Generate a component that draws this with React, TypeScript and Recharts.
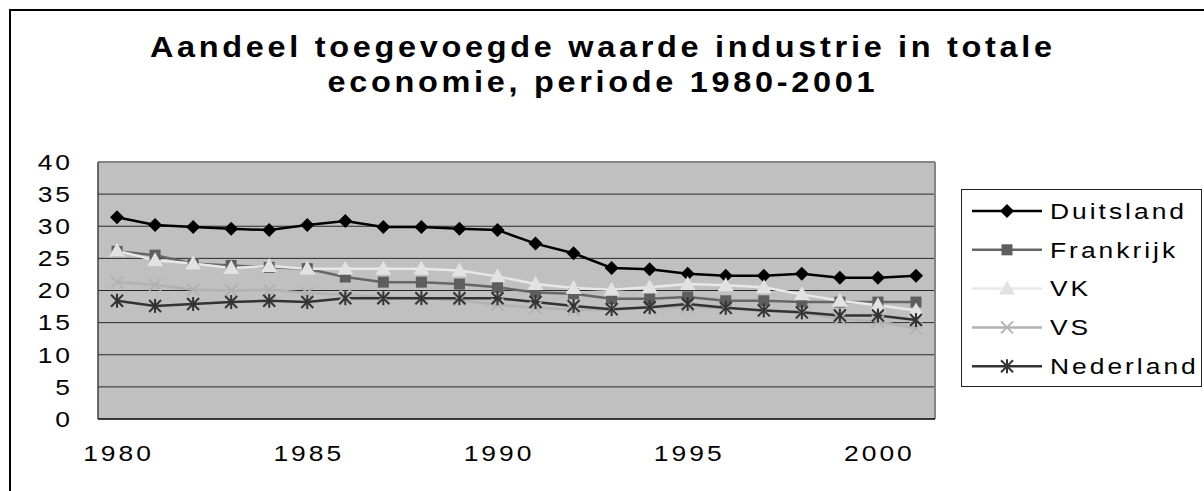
import React from 'react';
import {
    CartesianGrid,
    Line,
    LineChart,
    ReferenceLine,
    XAxis,
    YAxis,
} from 'recharts';

const years = [
    1980, 1981, 1982, 1983, 1984, 1985, 1986, 1987, 1988, 1989, 1990,
    1991, 1992, 1993, 1994, 1995, 1996, 1997, 1998, 1999, 2000, 2001,
];
const duitsland = [
    31.4, 30.2, 29.9, 29.6, 29.4, 30.2, 30.8, 29.9, 29.9, 29.6, 29.4,
    27.3, 25.8, 23.5, 23.3, 22.6, 22.3, 22.3, 22.6, 22.0, 22.0, 22.3,
];
const frankrijk = [
    26.1, 25.5, 24.2, 23.9, 23.6, 23.4, 22.1, 21.3, 21.3, 21.0, 20.5,
    19.7, 19.5, 18.7, 18.7, 19.0, 18.4, 18.4, 18.2, 18.2, 18.2, 18.2,
];
const vk = [
    26.2, 24.7, 24.2, 23.5, 23.8, 23.4, 23.4, 23.4, 23.4, 23.1, 22.2,
    21.0, 20.4, 20.1, 20.5, 21.0, 20.8, 20.5, 19.4, 18.4, 17.7, 16.9,
];
const vs = [
    21.3, 20.9, 20.1, 20.0, 20.1, 19.6, 19.3, 19.0, 18.8, 18.5, 17.8,
    17.3, 17.0, 17.0, 17.3, 17.5, 17.2, 16.9, 16.5, 15.6, 15.2, 14.1,
];
const nederland = [
    18.4, 17.6, 17.9, 18.2, 18.4, 18.2, 18.8, 18.8, 18.8, 18.8, 18.8,
    18.2, 17.6, 17.1, 17.4, 17.9, 17.3, 16.9, 16.6, 16.1, 16.1, 15.4,
];
const yTicks = [0, 5, 10, 15, 20, 25, 30, 35, 40];
const yearLabels = [1980, 1985, 1990, 1995, 2000];
const titleLines = [
    'Aandeel toegevoegde waarde industrie in totale',
    'economie, periode 1980-2001',
];

// tick marks sit between the categories, like in Excel
const betweenTicks = [...years.map((y) => y - 0.5), years[years.length - 1] + 0.5];

const data = years.map((year, i) => ({
    year,
    Duitsland: duitsland[i],
    Frankrijk: frankrijk[i],
    VK: vk[i],
    VS: vs[i],
    Nederland: nederland[i],
}));

type Shape = 'diamond' | 'square' | 'triangle' | 'cross' | 'star';

interface Series {
    key: string;
    color: string;
    marker: string;
    shape: Shape;
}

const series: Series[] = [
    { key: 'Duitsland', color: '#000000', marker: '#000000', shape: 'diamond' },
    { key: 'Frankrijk', color: '#666666', marker: '#5e5e5e', shape: 'square' },
    { key: 'VK', color: '#e8e8e8', marker: '#e2e2e2', shape: 'triangle' },
    { key: 'VS', color: '#b2b2b2', marker: '#b2b2b2', shape: 'cross' },
    { key: 'Nederland', color: '#333333', marker: '#333333', shape: 'star' },
];

const FONT = '"Liberation Sans", Arial, sans-serif';

// old Excel export: glyphs look stretched and spaced out
function WideText({
    x,
    y,
    anchor = 'start',
    size = 22,
    spacing = 2.5,
    sx = 1.2,
    bold = false,
    dy,
    children,
}: any) {
    const lx = anchor === 'end' ? spacing : anchor === 'middle' ? spacing / 2 : 0;
    return (
        <text
            transform={`translate(${x},${y}) scale(${sx},1)`}
            x={lx}
            y={0}
            dy={dy}
            textAnchor={anchor}
            fill="#000"
            fontSize={size}
            fontFamily={FONT}
            fontWeight={bold ? 'bold' : 'normal'}
            letterSpacing={spacing}
        >
            {children}
        </text>
    );
}

function Marker({ cx, cy, shape, color }: { cx: number; cy: number; shape: Shape; color: string }) {
    if (cx == null || cy == null) return null;
    switch (shape) {
        case 'diamond':
            return (
                <polygon
                    points={`${cx},${cy - 7} ${cx + 7},${cy} ${cx},${cy + 7} ${cx - 7},${cy}`}
                    fill={color}
                />
            );
        case 'square':
            return <rect x={cx - 5.5} y={cy - 5.5} width={11} height={11} fill={color} />;
        case 'triangle':
            return (
                <polygon
                    points={`${cx},${cy - 8} ${cx + 8},${cy + 6} ${cx - 8},${cy + 6}`}
                    fill={color}
                />
            );
        case 'cross':
            return (
                <g stroke={color} strokeWidth={2}>
                    <line x1={cx - 6} y1={cy - 6} x2={cx + 6} y2={cy + 6} />
                    <line x1={cx - 6} y1={cy + 6} x2={cx + 6} y2={cy - 6} />
                </g>
            );
        case 'star':
            return (
                <g stroke={color} strokeWidth={2}>
                    <line x1={cx - 6} y1={cy - 6} x2={cx + 6} y2={cy + 6} />
                    <line x1={cx - 6} y1={cy + 6} x2={cx + 6} y2={cy - 6} />
                    <line x1={cx} y1={cy - 7} x2={cx} y2={cy + 7} />
                </g>
            );
    }
    return null;
}

const YTick = ({ x, y, payload }: any) => (
    <WideText x={x} y={y} dy="0.355em" anchor="end">
        {payload.value}
    </WideText>
);

const XTick = ({ x, y, payload }: any) => (
    <WideText x={x} y={y} dy="0.71em" anchor="middle">
        {payload.value}
    </WideText>
);

function Title() {
    return (
        <svg width={1204} height={110} style={{ position: 'absolute', left: 0, top: 0 }}>
            {titleLines.map((t, i) => (
                <WideText
                    key={t}
                    x={601}
                    y={57 + i * 35}
                    anchor="middle"
                    size={29}
                    spacing={3.3}
                    sx={1.12}
                    bold
                >
                    {t}
                </WideText>
            ))}
        </svg>
    );
}

function ChartLegend() {
    return (
        <svg
            width={241}
            height={198}
            style={{ position: 'absolute', left: 961, top: 189 }}
        >
            <rect x={0.5} y={0.5} width={240} height={197} fill="#fff" stroke="#222" />
            {series.map((s, i) => {
                const cy = 22 + i * 38.8;
                return (
                    <g key={s.key}>
                        <line x1={11} x2={81} y1={cy} y2={cy} stroke={s.color} strokeWidth={2.5} />
                        <Marker cx={46} cy={cy} shape={s.shape} color={s.marker} />
                        <WideText x={89} y={cy} dy="0.355em">
                            {s.key}
                        </WideText>
                    </g>
                );
            })}
        </svg>
    );
}

export default function App() {
    return (
        <div
            style={{
                position: 'absolute',
                left: 0,
                top: 0,
                width: 1204,
                height: 491,
                overflow: 'hidden',
                background: '#fff',
                fontFamily: FONT,
            }}
        >
            <div
                style={{
                    position: 'absolute',
                    left: 9,
                    top: 9,
                    width: 1400,
                    height: 700,
                    border: '2px solid #000',
                }}
            />
            <Title />
            <div style={{ position: 'absolute', left: 0, top: 0 }}>
                <LineChart
                    width={1204}
                    height={491}
                    data={data}
                    margin={{ top: 162, right: 269, bottom: 0, left: 0 }}
                >
                    <CartesianGrid
                        vertical={false}
                        horizontalValues={[5, 10, 15, 20, 25, 30, 35]}
                        stroke="#2a2a2a"
                        strokeWidth={1}
                        fill="#c0c0c0"
                        fillOpacity={1}
                    />
                    <XAxis
                        dataKey="year"
                        type="number"
                        domain={[1979.5, 2001.5]}
                        allowDataOverflow
                        ticks={betweenTicks}
                        interval={0}
                        tick={false}
                        tickSize={7}
                        height={8}
                        axisLine={{ stroke: '#000', strokeWidth: 1.5 }}
                        tickLine={{ stroke: '#000', strokeWidth: 1 }}
                    />
                    <XAxis
                        xAxisId="lbl"
                        dataKey="year"
                        type="number"
                        domain={[1979.5, 2001.5]}
                        allowDataOverflow
                        ticks={yearLabels}
                        interval={0}
                        tick={<XTick />}
                        tickSize={0}
                        tickMargin={18}
                        height={64}
                        axisLine={false}
                        tickLine={false}
                    />
                    <YAxis
                        domain={[0, 40]}
                        ticks={yTicks}
                        interval={0}
                        width={98}
                        tick={<YTick />}
                        tickSize={0}
                        tickMargin={28}
                        tickLine={false}
                        axisLine={{ stroke: '#404040', strokeWidth: 1.5 }}
                    />
                    <ReferenceLine y={40} stroke="#858585" strokeWidth={2} />
                    <ReferenceLine x={2001.5} stroke="#858585" strokeWidth={2} />
                    {series.map((s) => (
                        <Line
                            key={s.key}
                            type="linear"
                            dataKey={s.key}
                            stroke={s.color}
                            strokeWidth={2.5}
                            isAnimationActive={false}
                            activeDot={false}
                            dot={(p: any) => (
                                <Marker
                                    key={`${s.key}-${p.index}`}
                                    cx={p.cx}
                                    cy={p.cy}
                                    shape={s.shape}
                                    color={s.marker}
                                />
                            )}
                        />
                    ))}
                </LineChart>
            </div>
            <ChartLegend />
        </div>
    );
}
